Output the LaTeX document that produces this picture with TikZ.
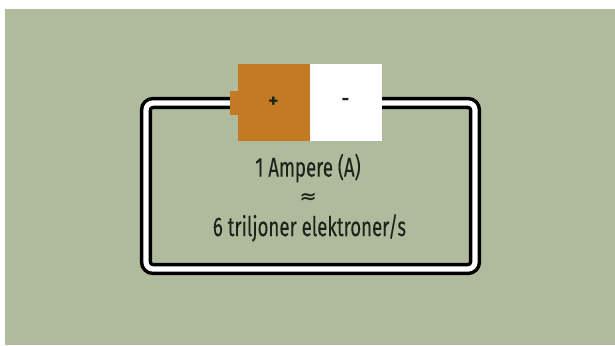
\documentclass[tikz,border=0pt]{standalone}
\usepackage{fontspec}
\setmainfont{Fira Sans}
\newfontfamily\narrowfont[FakeStretch=0.69,FakeBold=0.15]{Fira Sans}
\newfontfamily\symfont[FakeBold=0.5]{DejaVu Sans}
\usetikzlibrary{backgrounds}
\definecolor{bgreen}{HTML}{AFBB9C}
\definecolor{borange}{HTML}{C47A22}
\definecolor{ink}{HTML}{1B241B}
\tikzset{
  px/.style={x=1pt,y=-1pt},
  cell/.style={draw=none,inner sep=0pt,outer sep=0pt,anchor=north west,text=ink,font=\bfseries\fontsize{19}{19}\selectfont,align=center},
  wire/.style={draw=black,line width=3.5pt,double=white,double distance=5.2pt,rounded corners=7pt},
  lbl/.style={inner sep=0pt,text=ink,font=\narrowfont\fontsize{27}{27}\selectfont},
}
\begin{document}
\begin{tikzpicture}[px]
\useasboundingbox (0,0) rectangle (615,345);
\node[cell,fill=borange,minimum width=72pt,minimum height=77pt] (pos) at (237.5,63.5) {+};
\node[cell,fill=white,minimum width=72pt,minimum height=77pt] (neg) at (309.5,63.5) {-};
\node[cell,fill=borange,minimum width=8pt,minimum height=24pt] (nub) at (230,91) {};
\coordinate (tl) at (146,103);
\coordinate (bl) at (146,269);
\coordinate (br) at (475,269);
\coordinate (tr) at (475,103);
\begin{scope}[on background layer]
\fill[white] (0,0) rectangle (615,345);
\fill[bgreen] (5,9) rectangle (615,345);
\draw[wire] (nub.west) -- (tl) -- (bl) -- (br) -- (tr) -- (neg.east |- tr);
\end{scope}
\node[lbl] (amp) at (308,168) {1 Ampere (A)};
\node[lbl,font=\symfont\fontsize{20}{20}\selectfont] (approx) at (308,198) {≈};
\node[lbl] (elec) at (309.5,228) {6 triljoner elektroner/s};
\end{tikzpicture}
\end{document}
